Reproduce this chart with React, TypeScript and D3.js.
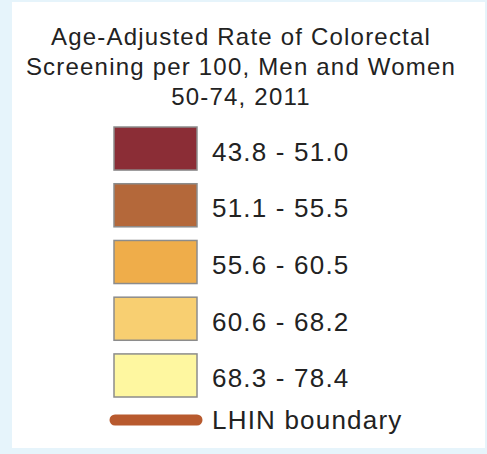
import React from "react";
import * as d3 from "d3";

const titleLines = [
  "Age-Adjusted Rate of Colorectal",
  "Screening per 100, Men and Women",
  "50-74, 2011",
];
const classLabels = ["43.8 - 51.0", "51.1 - 55.5", "55.6 - 60.5", "60.6 - 68.2", "68.3 - 78.4"];
const classColors = ["#8b2d36", "#b4683a", "#efad4a", "#f8cf71", "#fef7a0"];
const boundaryLabel = "LHIN boundary";
const boundaryColor = "#b85a2e";

const W = 487;
const H = 454;

export default function App() {
  const y = d3
    .scaleBand<number>()
    .domain(d3.range(classLabels.length))
    .range([127, 127 + 54 * classLabels.length])
    .paddingInner(13 / 54)
    .paddingOuter(0)
    .align(0);
  const swX = 114;
  const swW = 83;
  const font = "Arial, 'Liberation Sans', Helvetica, sans-serif";
  return (
    <svg
      width={W}
      height={H}
      style={{ position: "absolute", left: 0, top: 0, display: "block" }}
    >
      <rect x={0} y={0} width={W} height={H} fill="#e6f4fb" />
      <rect x={12} y={2} width={473} height={446} fill="#ffffff" />
      {titleLines.map((t, i) => (
        <text
          key={t}
          x={241}
          y={45 + i * 30}
          textAnchor="middle"
          fontFamily={font}
          fontSize={24}
          letterSpacing={1.2}
          fill="#222"
        >
          {t}
        </text>
      ))}
      {classLabels.map((lab, i) => {
        const yy = y(i)!;
        const h = y.bandwidth();
        return (
          <g key={lab}>
            <rect
              x={swX}
              y={yy}
              width={swW}
              height={h}
              fill={classColors[i]}
              stroke="#8c8c8c"
              strokeWidth={1.5}
            />
            <text
              x={212}
              y={yy + h / 2 + 12}
              fontFamily={font}
              fontSize={26}
              letterSpacing={1.2}
              fill="#222"
            >
              {lab}
            </text>
          </g>
        );
      })}
      <line
        x1={115}
        x2={197}
        y1={420}
        y2={420}
        stroke={boundaryColor}
        strokeWidth={11}
        strokeLinecap="round"
      />
      <text x={212} y={429} fontFamily={font} fontSize={26} letterSpacing={1.2} fill="#222">
        {boundaryLabel}
      </text>
    </svg>
  );
}
